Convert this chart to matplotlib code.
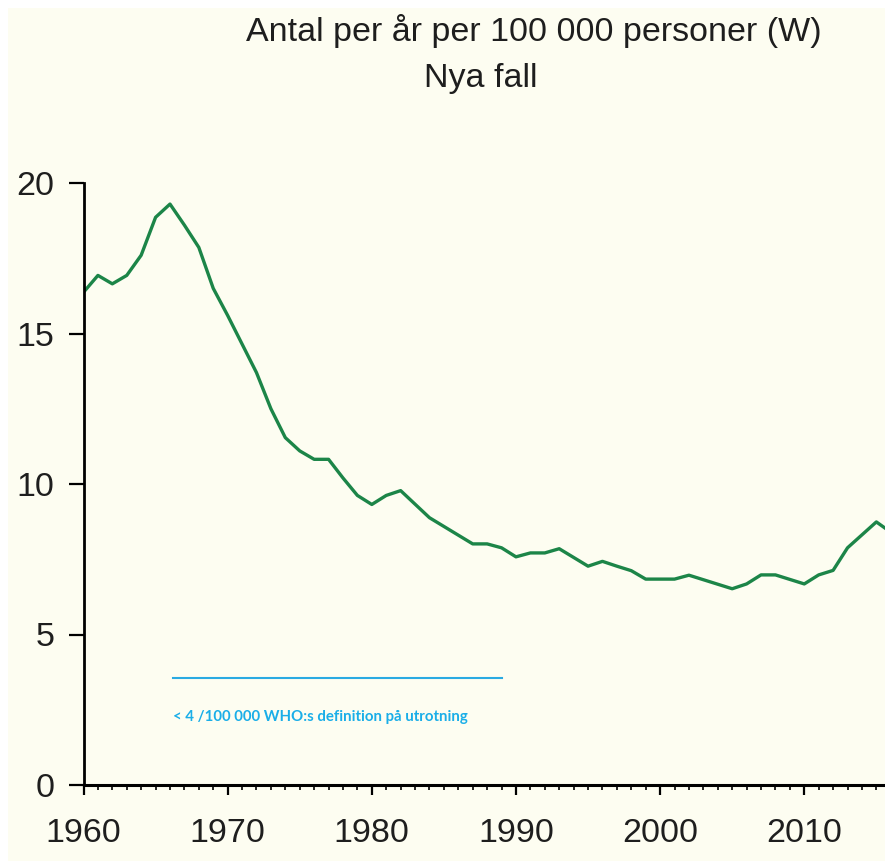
import numpy as np
import matplotlib
matplotlib.use('Agg')
import matplotlib.pyplot as plt
from matplotlib.patches import Rectangle

# data (cases per year per 100 000)
years = np.arange(1960, 2017)
rate = [16.37, 16.93, 16.65, 16.93, 17.6, 18.86, 19.3, 18.6, 17.86, 16.5,
        15.6, 14.65, 13.7, 12.5, 11.54, 11.1, 10.82, 10.82, 10.2, 9.62,
        9.32, 9.62, 9.78, 9.33, 8.88, 8.59, 8.3, 8.01, 8.01, 7.88,
        7.58, 7.71, 7.71, 7.85, 7.56, 7.27, 7.43, 7.27, 7.12, 6.84,
        6.84, 6.84, 6.97, 6.82, 6.67, 6.52, 6.68, 6.98, 6.98, 6.83,
        6.68, 6.98, 7.13, 7.88, 8.31, 8.74, 8.4]
who_level = 3.57
who_span = [1966.2, 1989.0]

title1 = 'Antal per år per 100 000 personer (W)'
title2 = 'Nya fall'
who_text = '< 4 /100 000 WHO:s definition på utrotning'
ytick_vals = [0, 5, 10, 15, 20]
xtick_vals = [1960, 1970, 1980, 1990, 2000, 2010]

main_font = 'Liberation Sans'
txt_col = '#1E1E1E'
bg = '#FDFDF1'

fig = plt.figure(figsize=(8.85, 8.61), dpi=100, facecolor=bg)
ax = fig.add_axes([83.5 / 885, 76 / 861, (885 - 83.5) / 885, 602 / 861])
ax.set_facecolor(bg)

ax.plot(years, rate, color='#1C8548', lw=2.4, clip_on=True)
ax.plot(who_span, [who_level, who_level], color='#2AAAE2', lw=1.5)
ax.text(who_span[0], who_level - 1.3, who_text, color='#1AAEE8', fontsize=10.8,
        family=['Lato', 'DejaVu Sans'], fontweight='bold', va='center', ha='left')

ax.set_xlim(1960, 2015.6)
ax.set_ylim(0, 20)
for s in ['top', 'right']:
    ax.spines[s].set_visible(False)
ax.spines['left'].set_linewidth(2)
ax.spines['bottom'].set_linewidth(2.2)

ax.set_yticks(ytick_vals)
ax.set_xticks(xtick_vals)
ax.set_xticks(np.arange(1961, 2016), minor=True)
ax.tick_params(axis='y', length=11, width=1.6, pad=10, labelsize=24.5, labelcolor=txt_col)
ax.tick_params(axis='x', which='major', length=7, width=1.6, pad=17, labelsize=24.5, labelcolor=txt_col)
ax.tick_params(axis='x', which='minor', length=3.5, width=1.2)
for lab in ax.get_xticklabels() + ax.get_yticklabels():
    lab.set_family(main_font)

fig.text(534 / 885, 1 - 31 / 861, title1, ha='center', va='center', fontsize=24.5,
         family=main_font, color=txt_col)
fig.text(481 / 885, 1 - 79 / 861, title2, ha='center', va='center', fontsize=24.5,
         family=main_font, color=txt_col)

# white strips at the edges, as in the scanned original
fig.patches.append(Rectangle((0, 1 - 8 / 861), 1, 8 / 861, transform=fig.transFigure,
                             facecolor='white', edgecolor='none', zorder=-1))
fig.patches.append(Rectangle((0, 0), 8 / 885, 1, transform=fig.transFigure,
                             facecolor='white', edgecolor='none', zorder=-1))

fig.savefig('out.png', dpi=100, facecolor=bg)
